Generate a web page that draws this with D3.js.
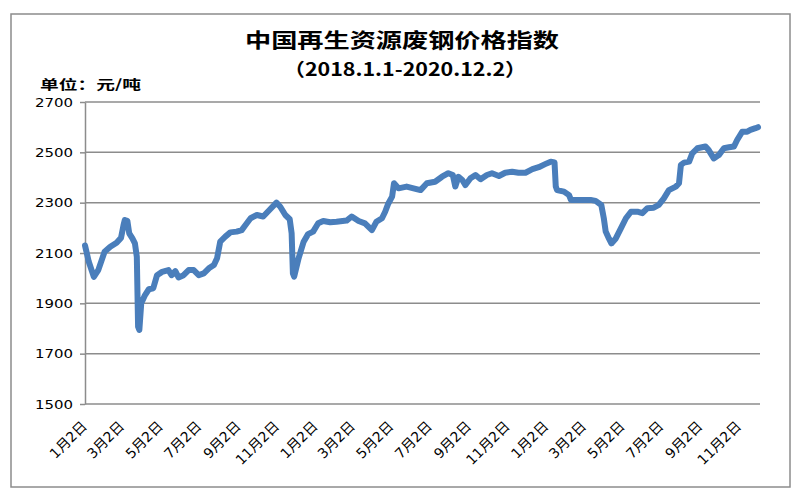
<!DOCTYPE html>
<html><head><meta charset="utf-8">
<script src="https://cdn.jsdelivr.net/npm/d3@7"></script>
<style>body{margin:0;background:#fff}</style>
</head><body><svg id="c" width="800" height="500"></svg>
<script>
const title = "中国再生资源废钢价格指数";
const subtitle = "（2018.1.1-2020.12.2）";
const unitLabel = "单位：元/吨";
const yTicks = [1500,1700,1900,2100,2300,2500,2700];
const xTickDates = ["2018-01-02","2018-03-02","2018-05-02","2018-07-02","2018-09-02","2018-11-02",
  "2019-01-02","2019-03-02","2019-05-02","2019-07-02","2019-09-02","2019-11-02",
  "2020-01-02","2020-03-02","2020-05-02","2020-07-02","2020-09-02","2020-11-02"];
const xTickLabels = ["1月2日","3月2日","5月2日","7月2日","9月2日","11月2日",
  "1月2日","3月2日","5月2日","7月2日","9月2日","11月2日",
  "1月2日","3月2日","5月2日","7月2日","9月2日","11月2日"];
const dates = ["2018-01-02","2018-01-08","2018-01-16","2018-01-23","2018-02-02","2018-02-11","2018-02-21","2018-02-28",
"2018-03-04","2018-03-06","2018-03-10","2018-03-13","2018-03-18","2018-03-22","2018-03-25","2018-03-27","2018-03-29",
"2018-04-01","2018-04-07","2018-04-13","2018-04-20","2018-04-26","2018-05-04","2018-05-14","2018-05-19","2018-05-25",
"2018-05-30","2018-06-07","2018-06-15","2018-06-23","2018-07-01","2018-07-09","2018-07-17","2018-07-25","2018-07-30",
"2018-08-04","2018-08-12","2018-08-20","2018-08-30","2018-09-07","2018-09-13","2018-09-21","2018-10-01","2018-10-11",
"2018-10-22","2018-11-01","2018-11-07","2018-11-15","2018-11-22","2018-11-25","2018-11-27","2018-11-29","2018-12-06",
"2018-12-14","2018-12-21","2018-12-29","2019-01-06","2019-01-14","2019-01-25","2019-02-04","2019-02-20","2019-02-28",
"2019-03-11","2019-03-21","2019-04-01","2019-04-08","2019-04-17","2019-04-22","2019-04-27","2019-05-03","2019-05-06",
"2019-05-13","2019-05-26","2019-06-09","2019-06-17","2019-06-27","2019-07-10","2019-07-21","2019-07-31","2019-08-07",
"2019-08-11","2019-08-16","2019-08-22","2019-08-27","2019-09-04","2019-09-12","2019-09-20","2019-09-30","2019-10-08",
"2019-10-19","2019-10-29","2019-11-09","2019-11-19","2019-11-30","2019-12-11","2019-12-21","2020-01-01","2020-01-09",
"2020-01-15","2020-01-17","2020-01-19","2020-01-30","2020-02-07","2020-02-10","2020-02-20","2020-03-12","2020-03-20",
"2020-03-29","2020-04-02","2020-04-05","2020-04-10","2020-04-14","2020-04-21","2020-04-29","2020-05-07","2020-05-15",
"2020-05-25","2020-06-02","2020-06-10","2020-06-20","2020-06-28","2020-07-06","2020-07-14","2020-07-25","2020-07-30",
"2020-08-02","2020-08-07","2020-08-15","2020-08-20","2020-08-28","2020-09-10","2020-09-15","2020-09-23","2020-10-01",
"2020-10-09","2020-10-17","2020-10-25","2020-10-30","2020-11-07","2020-11-15","2020-11-20","2020-11-28","2020-12-02"];
const values = [2130,2065,2005,2032,2105,2125,2141,2160,
2211,2231,2228,2178,2158,2138,2085,1807,1794,
1900,1933,1956,1960,2012,2025,2032,2012,2028,
2003,2012,2032,2032,2012,2019,2039,2052,2079,
2145,2165,2182,2185,2191,2211,2238,2251,2245,
2274,2300,2284,2251,2234,2178,2019,2006,2079,
2145,2175,2185,2218,2227,2222,2224,2229,2245,
2227,2218,2191,2224,2238,2264,2297,2324,2377,
2357,2364,2355,2350,2377,2383,2403,2417,2410,
2364,2403,2390,2370,2397,2410,2393,2410,2417,
2406,2419,2423,2419,2419,2433,2441,2454,2463,
2460,2364,2350,2344,2330,2311,2311,2311,2307,
2291,2238,2185,2158,2138,2158,2198,2238,2264,
2264,2258,2278,2280,2291,2317,2350,2364,2377,
2450,2459,2463,2496,2516,2523,2509,2476,2489,
2516,2520,2523,2549,2582,2582,2589,2596,2600];

const parse = d3.timeParse("%Y-%m-%d");
const svg = d3.select("#c");
const grey = "#8c8c8c";

svg.append("rect").attr("x",11).attr("y",14).attr("width",779).attr("height",473)
  .attr("fill","#fff").attr("stroke",grey).attr("stroke-width",1.5);

const x = d3.scaleTime().domain([parse(dates[0]), parse(dates[dates.length-1])]).range([85,758]);
const y = d3.scaleLinear().domain([1500,2700]).range([404,102]);

// gridlines
svg.append("g").selectAll("line").data(yTicks).join("line")
  .attr("x1",85).attr("x2",760).attr("y1",d=>y(d)).attr("y2",d=>y(d))
  .attr("stroke",grey).attr("stroke-width",1.5);

// y axis
const ya = svg.append("g").attr("transform","translate(85,0)")
  .call(d3.axisLeft(y).tickValues(yTicks).tickSize(5).tickSizeOuter(0).tickPadding(7).tickFormat(d3.format("d")));
ya.select(".domain").attr("stroke",grey).attr("stroke-width",1.5);
ya.selectAll(".tick line").attr("stroke",grey).attr("stroke-width",1.5);
ya.selectAll(".tick text").attr("font-family","DejaVu Sans, Verdana, sans-serif").attr("font-size",13)
  .attr("fill","#000").attr("textLength",38).attr("lengthAdjust","spacingAndGlyphs");

// x axis labels
const xa = svg.append("g").call(d3.axisBottom(x).tickValues(xTickDates.map(parse)).tickSize(0)
  .tickFormat((d,i)=>xTickLabels[i]));
xa.select(".domain").remove();
xa.selectAll(".tick").attr("transform", d=>`translate(${x(d)+3},427)`);
xa.selectAll(".tick text").attr("y",0).attr("dy",0).attr("text-anchor","end")
  .attr("transform","rotate(-45)")
  .attr("font-family","DejaVu Sans, Noto Sans CJK SC, sans-serif").attr("font-size",14).attr("fill","#000");

// line
const line = d3.line().x((d,i)=>x(parse(dates[i]))).y(d=>y(d));
svg.append("path").datum(values).attr("d",line).attr("fill","none")
  .attr("stroke","#4a7ebb").attr("stroke-width",6).attr("stroke-linejoin","round").attr("stroke-linecap","round");

// texts
svg.append("text").attr("x",402).attr("y",48).attr("text-anchor","middle")
  .attr("font-family","Noto Sans CJK SC, sans-serif").attr("font-weight","bold").attr("font-size",20)
  .attr("textLength",314).attr("lengthAdjust","spacingAndGlyphs").text(title);
svg.append("text").attr("x",405).attr("y",76).attr("text-anchor","middle")
  .attr("font-family","Noto Sans CJK SC, sans-serif").attr("font-weight","bold").attr("font-size",18)
  .attr("textLength",243).attr("lengthAdjust","spacingAndGlyphs").text(subtitle);
svg.append("text").attr("x",40).attr("y",89)
  .attr("font-family","Noto Sans CJK SC, sans-serif").attr("font-weight","bold").attr("font-size",13)
  .attr("textLength",101).attr("lengthAdjust","spacingAndGlyphs").text(unitLabel);
</script></body></html>
